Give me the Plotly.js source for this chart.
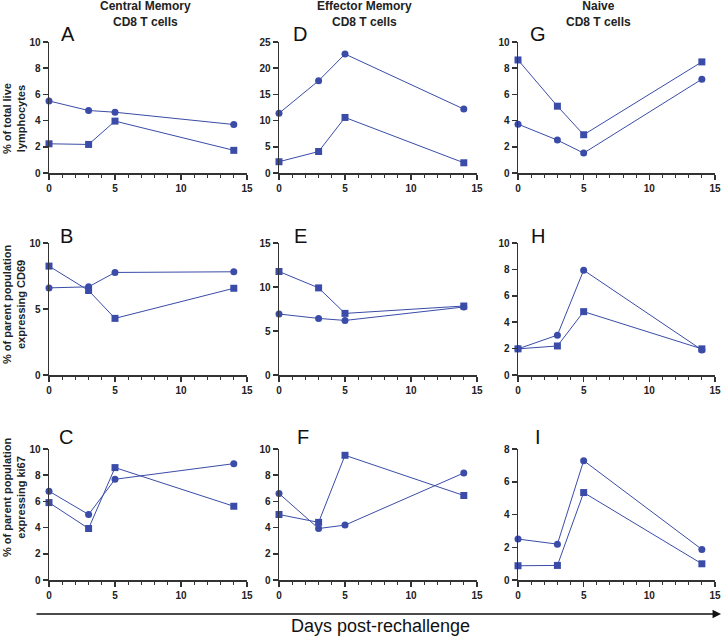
<!DOCTYPE html>
<html>
<head>
<meta charset="utf-8">
<script src="https://cdn.plot.ly/plotly-3.0.1.min.js"></script>
<style>
  body { margin: 0; background: #fff; }
  #myPlot { width: 723px; height: 638px; }
</style>
</head>
<body>
<div id="myPlot"></div>
<script>
// days post-rechallenge, same for every panel
const days = [0, 3, 5, 14];

// row 1: % of total live lymphocytes
const aCircle = [5.5, 4.77, 4.64, 3.7];
const aSquare = [2.23, 2.18, 3.96, 1.73];
const dCircle = [11.4, 17.6, 22.7, 12.2];
const dSquare = [2.15, 4.1, 10.6, 1.95];
const gCircle = [3.73, 2.51, 1.52, 7.16];
const gSquare = [8.63, 5.1, 2.92, 8.48];

// row 2: % of parent population expressing CD69
const bCircle = [6.6, 6.68, 7.77, 7.82];
const bSquare = [8.25, 6.4, 4.29, 6.57];
const eCircle = [6.93, 6.43, 6.2, 7.73];
const eSquare = [11.76, 9.9, 7.0, 7.84];
const hCircle = [1.98, 3.02, 7.94, 1.9];
const hSquare = [1.98, 2.2, 4.8, 1.98];

// row 3: % of parent population expressing ki67
const cCircle = [6.78, 5.0, 7.69, 8.88];
const cSquare = [5.91, 3.93, 8.58, 5.63];
const fCircle = [6.6, 3.93, 4.19, 8.17];
const fSquare = [5.0, 4.4, 9.52, 6.45];
const iCircle = [2.5, 2.19, 7.29, 1.87];
const iSquare = [0.87, 0.89, 5.34, 0.99];

const columnTitles = ['Central Memory<br>CD8 T cells', 'Effector Memory<br>CD8 T cells', 'Naive<br>CD8 T cells'];
const rowTitles = ['% of total live<br>lymphocytes', '% of parent population<br>expressing CD69', '% of parent population<br>expressing ki67'];
const panelLetters = ['A', 'D', 'G', 'B', 'E', 'H', 'C', 'F', 'I'];
const yMax = [10, 25, 10, 10, 15, 10, 10, 10, 8];
const yStep = [2, 5, 2, 5, 5, 2, 2, 2, 2];

// panels in reading order (row by row)
const circles = [aCircle, dCircle, gCircle, bCircle, eCircle, hCircle, cCircle, fCircle, iCircle];
const squares = [aSquare, dSquare, gSquare, bSquare, eSquare, hSquare, cSquare, fSquare, iSquare];

const W = 723, H = 638;
const colPx = [[49, 247], [279, 477], [518, 715]];   // left/right of each column, pixels
const rowPx = [[42, 173], [243, 375], [449, 580]];   // top/bottom of each row, pixels
const blue = 'rgb(58,76,168)';
const axisCol = '#333';

const px = v => v / W;
const py = v => 1 - v / H;

let data = [];
let layout = {
    width: W, height: H,
    margin: { l: 0, r: 0, t: 0, b: 0 },
    paper_bgcolor: '#fff', plot_bgcolor: 'rgba(0,0,0,0)',
    showlegend: false,
    font: { family: 'Liberation Sans, Arial, sans-serif', color: '#222' },
    annotations: []
};

for (let i = 0; i < 9; i++) {
    const r = Math.floor(i / 3), c = i % 3;
    const n = i === 0 ? '' : String(i + 1);
    const xa = 'x' + n, ya = 'y' + n;

    data.push({
        x: days, y: circles[i], xaxis: xa, yaxis: ya,
        type: 'scatter', mode: 'lines+markers', cliponaxis: false,
        line: { color: blue, width: 1 },
        marker: { symbol: 'circle', size: 7, color: blue }
    });
    data.push({
        x: days, y: squares[i], xaxis: xa, yaxis: ya,
        type: 'scatter', mode: 'lines+markers', cliponaxis: false,
        line: { color: blue, width: 1 },
        marker: { symbol: 'square', size: 7, color: blue }
    });

    layout['xaxis' + n] = {
        domain: [px(colPx[c][0]), px(colPx[c][1])],
        anchor: ya, range: [0, 15], tick0: 0, dtick: 5,
        showgrid: false, zeroline: false,
        showline: true, linecolor: axisCol, linewidth: 1.5,
        ticks: 'outside', ticklen: 5, tickwidth: 1.5, tickcolor: axisCol,
        minor: { dtick: 1, ticks: 'outside', ticklen: 3, tickwidth: 1, tickcolor: axisCol },
        tickfont: { size: 10, weight: 'bold', color: '#222' },
        fixedrange: true
    };
    layout['yaxis' + n] = {
        domain: [py(rowPx[r][1]), py(rowPx[r][0])],
        anchor: xa, range: [0, yMax[i]], tick0: 0, dtick: yStep[i],
        showgrid: false, zeroline: false,
        showline: true, linecolor: axisCol, linewidth: 1.5,
        ticks: 'outside', ticklen: 5, tickwidth: 1.5, tickcolor: axisCol,
        tickfont: { size: 10, weight: 'bold', color: '#222' },
        fixedrange: true
    };
}

// column headers
const colCenters = [145, 364, 598];
colCenters.forEach((cx, k) => {
    layout.annotations.push({
        text: '<b>' + columnTitles[k] + '</b>', xref: 'paper', yref: 'paper',
        x: px(cx), y: py(13.5), xanchor: 'center', yanchor: 'middle',
        showarrow: false, font: { size: 12, color: '#222' }
    });
});

// panel letters
const letterPos = [[68, 34], [300, 34], [538, 34], [66, 236], [300, 236], [538, 236], [66, 437], [303, 437], [538, 437]];
panelLetters.forEach((t, k) => {
    layout.annotations.push({
        text: t, xref: 'paper', yref: 'paper',
        x: px(letterPos[k][0]), y: py(letterPos[k][1]), xanchor: 'center', yanchor: 'middle',
        showarrow: false, font: { size: 20, color: '#111' }
    });
});

// row (y axis) titles
const rowCenters = [119, 305, 498];
rowCenters.forEach((cy, k) => {
    layout.annotations.push({
        text: '<b>' + rowTitles[k] + '</b>', xref: 'paper', yref: 'paper',
        x: px(14), y: py(cy), xanchor: 'center', yanchor: 'middle', textangle: -90,
        showarrow: false, font: { size: 11, color: '#222' }
    });
});

// time arrow and its label
layout.annotations.push({
    text: '', xref: 'paper', yref: 'paper',
    x: px(721), y: py(614), ax: -(721 - 35), ay: 0, axref: 'pixel', ayref: 'pixel',
    showarrow: true, arrowhead: 2, arrowsize: 1.3, arrowwidth: 1.3, arrowcolor: '#111'
});
layout.annotations.push({
    text: 'Days post-rechallenge', xref: 'paper', yref: 'paper',
    x: px(380), y: py(626), xanchor: 'center', yanchor: 'middle',
    showarrow: false, font: { size: 18, color: '#111' }
});

Plotly.newPlot(document.getElementById('myPlot'), data, layout, { staticPlot: true });
</script>
</body>
</html>
